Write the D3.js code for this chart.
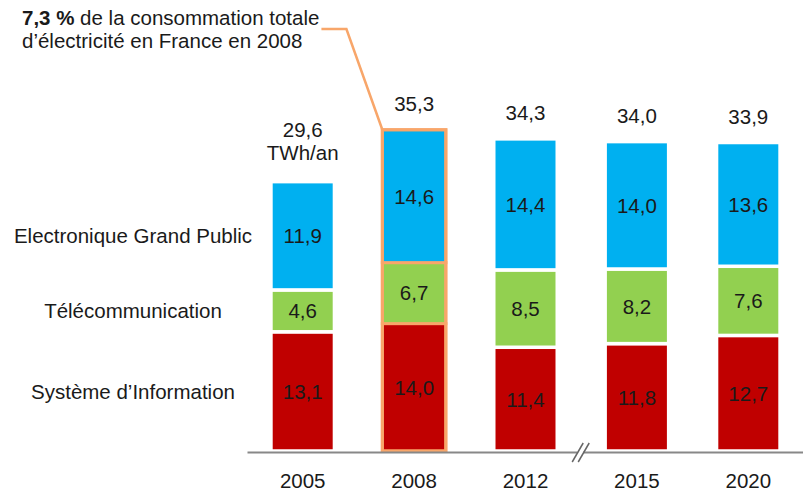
<!DOCTYPE html>
<html>
<head>
<meta charset="utf-8">
<script src="https://cdn.jsdelivr.net/npm/d3@7"></script>
<style>
  body { margin: 0; background: #fff; }
  text { font-family: "Liberation Sans", Arial, sans-serif; fill: #1a1a1a; }
</style>
</head>
<body>
<div id="chart"></div>
<script>
/* DATA */
const years = ["2005", "2008", "2012", "2015", "2020"];
const systemeInfo = [13.1, 14.0, 11.4, 11.8, 12.7];
const telecom = [4.6, 6.7, 8.5, 8.2, 7.6];
const electronique = [11.9, 14.6, 14.4, 14.0, 13.6];
const totals = ["29,6", "35,3", "34,3", "34,0", "33,9"];
const seriesNames = ["Système d’Information", "Télécommunication", "Electronique Grand Public"];
const colors = ["#C00000", "#92D050", "#00B0F0"];
const highlightYear = "2008";

/* CONSTANTS */
const width = 803,
  height = 493,
  baseline = 451,
  fontSize = "20.5px";

const fmt = v => v.toFixed(1).replace(".", ",");

const rows = years.map((y, i) => ({
  year: y,
  s0: systemeInfo[i],
  s1: telecom[i],
  s2: electronique[i],
  total: systemeInfo[i] + telecom[i] + electronique[i]
}));

const stack = d3.stack().keys(["s0", "s1", "s2"]);
const stacked = stack(rows);

/* SCALES */
const xScale = d3.scaleBand()
  .domain(years)
  .range([247, 804])
  .paddingInner(0.43)
  .paddingOuter(0.215);

const yScale = d3.scaleLinear()
  .domain([0, 40])
  .range([baseline, 87]);

const svg = d3.select("#chart")
  .append("svg")
  .attr("width", width)
  .attr("height", height);

/* BARS */
const layers = svg.selectAll(".layer")
  .data(stacked)
  .join("g")
  .attr("class", "layer")
  .attr("fill", (d, i) => colors[i]);

layers.selectAll("rect")
  .data(d => d.map(p => ({ p, key: d.key })))
  .join("rect")
  .attr("x", d => xScale(d.p.data.year))
  .attr("width", xScale.bandwidth())
  .attr("y", d => yScale(d.p[1]))
  .attr("height", d => yScale(d.p[0]) - yScale(d.p[1]))
  .attr("stroke", d => d.p.data.year === highlightYear ? "#F8A66A" : "#fff")
  .attr("stroke-width", d => d.p.data.year === highlightYear ? 3 : 3.5);

// outline round the highlighted bar
const hl = rows.find(r => r.year === highlightYear);
svg.append("rect")
  .attr("x", xScale(highlightYear))
  .attr("width", xScale.bandwidth())
  .attr("y", yScale(hl.total))
  .attr("height", baseline - yScale(hl.total))
  .attr("fill", "none")
  .attr("stroke", "#F8A66A")
  .attr("stroke-width", 3);

/* VALUE LABELS */
layers.selectAll("text")
  .data(d => d.map(p => ({ p, key: d.key })))
  .join("text")
  .attr("x", d => xScale(d.p.data.year) + xScale.bandwidth() / 2)
  .attr("y", d => (yScale(d.p[0]) + yScale(d.p[1])) / 2)
  .attr("dy", "0.36em")
  .attr("text-anchor", "middle")
  .style("font-size", fontSize)
  .text(d => fmt(d.p[1] - d.p[0]));

/* TOTALS */
svg.selectAll(".total")
  .data(rows)
  .join("text")
  .attr("class", "total")
  .attr("x", d => xScale(d.year) + xScale.bandwidth() / 2)
  .attr("y", (d, i) => yScale(d.total) - (i === 0 ? 45 : 19))
  .attr("text-anchor", "middle")
  .style("font-size", fontSize)
  .text((d, i) => totals[i]);

svg.append("text")
  .attr("x", xScale(years[0]) + xScale.bandwidth() / 2)
  .attr("y", yScale(rows[0].total) - 22)
  .attr("text-anchor", "middle")
  .style("font-size", fontSize)
  .text("TWh/an");

/* SERIES LABELS (left) */
svg.selectAll(".serie")
  .data(stacked)
  .join("text")
  .attr("class", "serie")
  .attr("x", 133)
  .attr("y", d => (yScale(d[0][0]) + yScale(d[0][1])) / 2)
  .attr("dy", "0.36em")
  .attr("text-anchor", "middle")
  .style("font-size", fontSize)
  .text((d, i) => seriesNames[i]);

/* AXIS */
const xAxis = svg.append("g")
  .attr("class", "x-axis")
  .attr("transform", `translate(0,${baseline + 1})`)
  .call(d3.axisBottom(xScale).tickSize(0).tickSizeOuter(0).tickPadding(21));

xAxis.select(".domain")
  .attr("stroke", "#888")
  .attr("stroke-width", 2);
xAxis.selectAll("text")
  .style("font-size", fontSize)
  .style("font-family", "'Liberation Sans', Arial, sans-serif")
  .attr("fill", "#1a1a1a");

// axis break between 2012 and 2015
const breakX = (xScale("2012") + xScale.bandwidth() + xScale("2015")) / 2;
const ay = baseline + 1;
svg.append("rect")
  .attr("x", breakX - 4)
  .attr("y", ay - 2)
  .attr("width", 6)
  .attr("height", 4)
  .attr("fill", "#fff");
[-3, 3].forEach(o => {
  svg.append("line")
    .attr("x1", breakX + o - 6).attr("y1", ay + 10)
    .attr("x2", breakX + o + 5).attr("y2", ay - 9)
    .attr("stroke", "#666")
    .attr("stroke-width", 1.5);
});

/* ANNOTATION */
const note = svg.append("text")
  .attr("x", 22)
  .attr("y", 25)
  .style("font-size", fontSize);
const line1 = note.append("tspan");
line1.append("tspan").style("font-weight", "bold").text("7,3 %");
line1.append("tspan").text(" de la consommation totale");
note.append("tspan")
  .attr("x", 22)
  .attr("dy", 23)
  .text("d’électricité en France en 2008");

const line1W = line1.node().getComputedTextLength();
const startX = 22 + line1W + 2;
svg.append("path")
  .attr("d", d3.line()([
    [startX, 29],
    [startX + 25, 29],
    [xScale(highlightYear), yScale(hl.total)]
  ]))
  .attr("fill", "none")
  .attr("stroke", "#F8A66A")
  .attr("stroke-width", 2.5);
</script>
</body>
</html>
